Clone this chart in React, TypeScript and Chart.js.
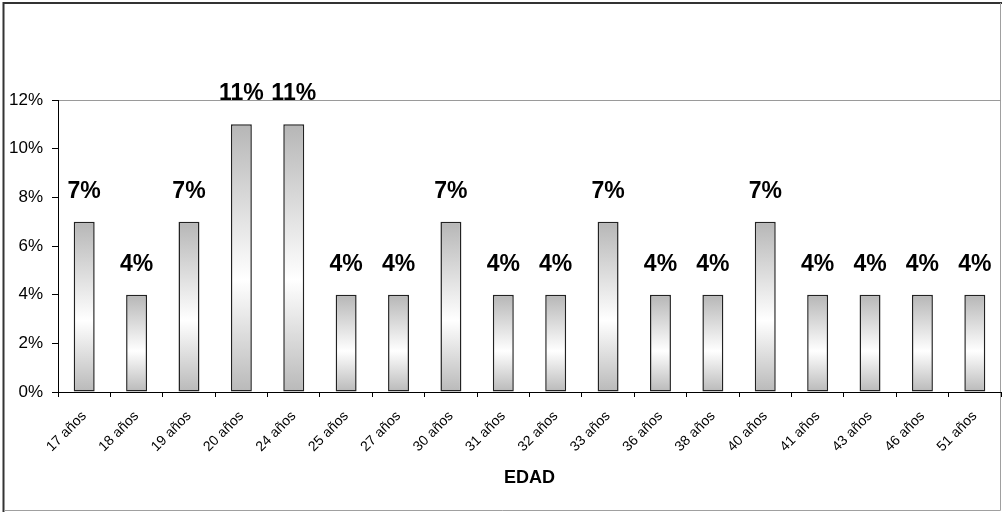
import React, { useEffect, useRef } from "react";
import { Chart, registerables } from "chart.js";

Chart.register(...registerables);

const categories = [
  "17 años", "18 años", "19 años", "20 años", "24 años", "25 años",
  "27 años", "30 años", "31 años", "32 años", "33 años", "36 años",
  "38 años", "40 años", "41 años", "43 años", "46 años", "51 años",
];
const percentages = [7, 4, 7, 11, 11, 4, 4, 7, 4, 4, 7, 4, 4, 7, 4, 4, 4, 4];
const yTicks = [0, 2, 4, 6, 8, 10, 12];
const axisTitle = "EDAD";

const FONT = "'Liberation Sans', Arial, Helvetica, sans-serif";

// White background plus the outer frame (dark on top/left, light on right/bottom)
const framePlugin = {
  id: "frame",
  beforeDraw(chart: any) {
    const { ctx, width, height } = chart;
    ctx.save();
    ctx.fillStyle = "#ffffff";
    ctx.fillRect(0, 0, width, height);
    ctx.strokeStyle = "#333333";
    ctx.lineWidth = 2;
    ctx.beginPath();
    ctx.moveTo(3.5, height);
    ctx.lineTo(3.5, 3);
    ctx.lineTo(width, 3);
    ctx.stroke();
    ctx.strokeStyle = "#a0a0a0";
    ctx.lineWidth = 1;
    ctx.beginPath();
    ctx.moveTo(4, height - 1.5);
    ctx.lineTo(width - 1.5, height - 1.5);
    ctx.lineTo(width - 1.5, 3);
    ctx.stroke();
    ctx.restore();
  },
};

// Percentage labels above each bar
const valueLabelPlugin = {
  id: "valueLabels",
  afterDatasetsDraw(chart: any) {
    const { ctx } = chart;
    const meta = chart.getDatasetMeta(0);
    const data = chart.data.datasets[0].data as number[];
    ctx.save();
    ctx.fillStyle = "#000000";
    ctx.font = `bold 23px ${FONT}`;
    ctx.textAlign = "center";
    ctx.textBaseline = "alphabetic";
    meta.data.forEach((bar: any, i: number) => {
      ctx.fillText(`${data[i]}%`, bar.x, bar.y - 24);
    });
    ctx.restore();
  },
};

function barGradient(context: any) {
  const chart = context.chart;
  const yScale = chart.scales?.y;
  const value = context.raw as number;
  if (!chart.chartArea || !yScale || value === undefined) return "#c8c8c8";
  const top = yScale.getPixelForValue(value);
  const bottom = yScale.getPixelForValue(0);
  const g = chart.ctx.createLinearGradient(0, top, 0, bottom);
  g.addColorStop(0, "#b6b6b6");
  g.addColorStop(0.58, "#ffffff");
  g.addColorStop(1, "#b9b9b9");
  return g;
}

export default function App() {
  const canvasRef = useRef<HTMLCanvasElement | null>(null);

  useEffect(() => {
    document.body.style.margin = "0";
    const canvas = canvasRef.current;
    if (!canvas) return;
    const chart = new Chart(canvas, {
      type: "bar",
      data: {
        labels: categories,
        datasets: [
          {
            data: percentages,
            backgroundColor: barGradient,
            borderColor: "#222222",
            borderWidth: 1.5,
            borderSkipped: false,
            barPercentage: 0.4,
            categoryPercentage: 1,
          },
        ],
      },
      options: {
        animation: false,
        responsive: false,
        devicePixelRatio: 1,
        layout: { padding: { top: 100, right: 1, left: 0, bottom: 19 } },
        plugins: {
          legend: { display: false },
          tooltip: { enabled: false },
          title: { display: false },
        },
        scales: {
          x: {
            offset: true,
            grid: {
              offset: true,
              drawOnChartArea: false,
              drawTicks: true,
              tickLength: 5,
              tickColor: "#000000",
              color: "#000000",
            },
            border: { color: "#000000", width: 1 },
            ticks: {
              color: "#000000",
              font: { family: FONT, size: 14 },
              minRotation: 45,
              maxRotation: 45,
              autoSkip: false,
              padding: 11,
            },
            title: {
              display: true,
              text: axisTitle,
              color: "#000000",
              font: { family: FONT, size: 18, weight: "bold" },
              padding: { top: 4, bottom: 4 },
            },
            afterFit(scale: any) {
              scale.height = 101;
            },
          },
          y: {
            min: 0,
            max: 12,
            afterBuildTicks(scale: any) {
              scale.ticks = yTicks.map((v) => ({ value: v }));
            },
            grid: {
              color: (c: any) => (c.tick && c.tick.value === 12 ? "#9a9a9a" : "rgba(0,0,0,0)"),
              tickColor: "#000000",
              tickLength: 6,
              lineWidth: 1,
            },
            border: { color: "#000000", width: 1 },
            ticks: {
              color: "#000000",
              font: { family: FONT, size: 17 },
              padding: 9,
              callback: (v: any) => `${v}%`,
            },
            afterFit(scale: any) {
              scale.width = 58;
            },
          },
        },
      },
      plugins: [framePlugin, valueLabelPlugin],
    });
    return () => chart.destroy();
  }, []);

  return (
    <div style={{ width: 1002, height: 512 }}>
      <canvas ref={canvasRef} width={1002} height={512} style={{ display: "block" }} />
    </div>
  );
}
